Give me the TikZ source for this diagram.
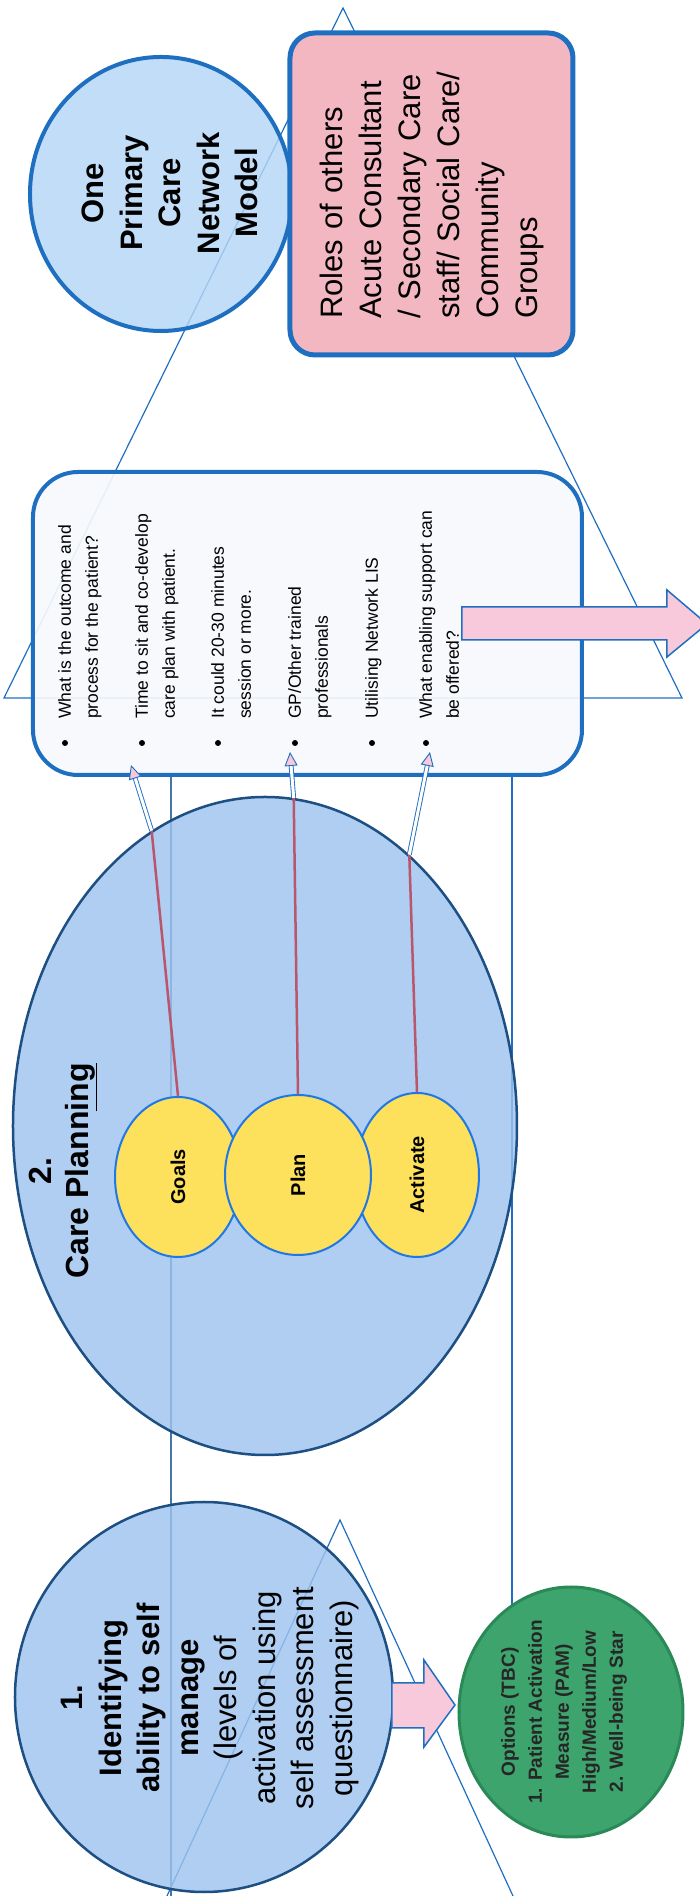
\documentclass[tikz,border=0pt]{standalone}
\usepackage{fontspec}
\setmainfont{Liberation Sans}
\usepackage{xcolor}
\usetikzlibrary{shapes, arrows.meta, positioning}

\definecolor{ovalblue}{HTML}{9DC3EF}
\definecolor{primaryblue}{HTML}{B4D6F6}
\definecolor{ovaledge}{HTML}{1D4F82}
\definecolor{linkblue}{HTML}{1F6FC1}
\definecolor{rolepink}{HTML}{F3B7C2}
\definecolor{notefill}{HTML}{F6F9FC}
\definecolor{optgreen}{HTML}{3DA46D}
\definecolor{optedge}{HTML}{2A8A57}
\definecolor{stepyellow}{HTML}{FDE05C}
\definecolor{stepedge}{HTML}{1F78E6}
\definecolor{linkred}{HTML}{B9566C}
\definecolor{arrowpink}{HTML}{F7C9DA}

\begin{document}
\begin{tikzpicture}[rotate=90, transform shape, x=1pt, y=1pt,
    guide/.style={draw=linkblue, line width=1.2pt},
    oval/.style={ellipse, draw=ovaledge, line width=2.5pt, fill=ovalblue, fill opacity=0.82, inner sep=0pt},
    yoval/.style={ellipse, draw=stepedge, line width=2pt, fill=stepyellow, inner sep=0pt, font=\fontsize{20}{24}\selectfont\bfseries},
    bigtext/.style={align=center, inner sep=0pt, font=\fontsize{31}{38.5}\selectfont},
    itemtext/.style={anchor=north west, align=left, inner sep=0pt, font=\fontsize{17.5}{27}\selectfont},
    bulletdot/.style={circle, fill=black, inner sep=0pt, minimum size=6pt},
    redlink/.style={draw=linkred, line width=2.5pt},
    bluelink/.style={draw=linkblue, line width=0.9pt, double=white, double distance=3pt, -{Triangle[length=14pt, width=13pt, fill=arrowpink]}},
    pinkarrow/.style={fill=arrowpink, draw=linkblue, line width=1.5pt}]
\useasboundingbox (0,0) rectangle (1896,699);

\draw[guide] (1888,356) -- (1198,695) -- (1198,17) -- cycle;
\draw[guide] (0,532) -- (376,359) -- (0,186);
\draw[guide, draw=linkblue!60!gray] (1121,528) -- (0,528);
\draw[guide] (1121,187) -- (290,187);

\node[oval, minimum width=274pt, minimum height=262pt, fill=primaryblue, draw=linkblue, line width=4pt] (primary) at (1702,538) {};
\node[oval, minimum width=658pt, minimum height=504pt] (care) at (770,434) {};
\node[oval, minimum width=390pt, minimum height=378pt] (selfman) at (199,495) {};
\node[ellipse, draw=optedge, line width=3pt, fill=optgreen, minimum width=250pt, minimum height=224pt] (options) at (184,128) {};

\node[draw=linkblue, line width=5pt, fill=rolepink, rounded corners=25pt, minimum width=322pt, minimum height=283pt, text width=250pt, align=left, font=\fontsize{31}{39}\selectfont] (roles) at (1702,267.5) {Roles of others\\Acute Consultant\\/ Secondary Care\\staff/ Social Care/\\Community\\Groups};
\node[draw=linkblue, line width=4pt, fill=notefill, fill opacity=0.92, rounded corners=45pt, minimum width=303pt, minimum height=549pt] (notes) at (1272.5,391.5) {};

\node[yoval, minimum width=160pt, minimum height=126pt] (goals) at (719,521) {Goals};
\node[yoval, minimum width=164pt, minimum height=124pt] (activate) at (721,282) {Activate};
\node[yoval, minimum width=160pt, minimum height=146pt] (plan) at (721,401) {Plan};

\node[bigtext, font=\fontsize{32}{37}\selectfont\bfseries] (caretitle) at (725,636) {2.\\Care Plann\underline{ing}};
\node[bigtext] (primarytxt) at (1703,529) {\bfseries One\\\bfseries Primary\\\bfseries Care\\\bfseries Network\\\bfseries Model};
\node[bigtext] (selfmantxt) at (198,489) {\textbf{1.}\\\textbf{Identifying}\\\textbf{ability to self}\\\textbf{manage}\\(levels of\\activation using\\self assessment\\questionnaire)};
\node[align=center, inner sep=0pt, text=black!85, font=\fontsize{19}{27}\selectfont\bfseries] (optionstxt) at (184,135) {Options (TBC)\\1. Patient Activation\\Measure (PAM)\\High/Medium/Low\\2. Well-being Star};

\node[bulletdot] (d1) at (1153,634) {};
\node[bulletdot] (d2) at (1153,557) {};
\node[bulletdot] (d3) at (1153,481) {};
\node[bulletdot] (d4) at (1153,404) {};
\node[bulletdot] (d5) at (1153,327) {};
\node[bulletdot] (d6) at (1153,273) {};
\node[itemtext] (i1) at (1177,641) {What is the outcome and\\process for the patient?};
\node[itemtext] (i2) at (1177,564) {Time to sit and co-develop\\care plan with patient.};
\node[itemtext] (i3) at (1177,488) {It could 20-30 minutes\\session or more.};
\node[itemtext] (i4) at (1177,411) {GP/Other trained\\professionals};
\node[itemtext] (i5) at (1177,334) {Utilising Network LIS};
\node[itemtext] (i6) at (1177,280) {What enabling support can\\be offered?};

\coordinate (gtip) at (1131,568);
\coordinate (ptip) at (1144,409);
\coordinate (atip) at (1144,269);
\draw[redlink] (goals.east) -- (care.21);
\draw[redlink] (plan.east) -- (care.-5);
\draw[redlink] (activate.east) -- (care.-28);
\draw[bluelink] (care.21) -- (gtip);
\draw[bluelink] (care.-5) -- (ptip);
\draw[bluelink] (care.-28) -- (atip);

\draw[pinkarrow] (1256,237) -- (1256,32) -- (1239,32) -- (1272,-8) -- (1306,32) -- (1289,32) -- (1289,237) -- cycle;
\draw[pinkarrow] (168,307) -- (168,275) -- (149,275) -- (191,244) -- (236,275) -- (213,275) -- (213,307) -- cycle;
\end{tikzpicture}
\end{document}
